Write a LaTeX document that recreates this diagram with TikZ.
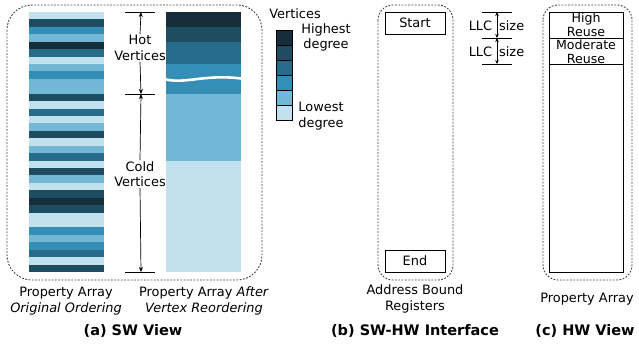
\documentclass[tikz,border=0pt]{standalone}
\usepackage{fontspec}
\setmainfont{DejaVu Sans}
\usetikzlibrary{arrows.meta}
\definecolor{cA}{RGB}{22,46,60}
\definecolor{cB}{RGB}{30,77,98}
\definecolor{cC}{RGB}{38,108,138}
\definecolor{cD}{RGB}{52,142,182}
\definecolor{cE}{RGB}{115,183,215}
\definecolor{cF}{RGB}{194,225,238}
\begin{document}
\begin{tikzpicture}[x=1pt,y=-1pt,
  font=\fontsize{12.9}{15.5}\selectfont,
  dotbox/.style={draw=black!75,line width=0.9pt,dash pattern=on 1.8pt off 1.5pt},
  lbl/.style={align=center,inner sep=1pt},
  captxt/.style={font=\fontsize{14.5}{17}\selectfont\bfseries,inner sep=1pt},
  tickln/.style={line width=0.8pt},
  arr/.style={line width=0.7pt,-{Stealth[length=5pt,width=4pt]}},
  darr/.style={line width=0.7pt,{Stealth[length=4pt,width=3.5pt]}-{Stealth[length=4pt,width=3.5pt]}},
  boxn/.style={draw,line width=0.8pt,minimum width=60pt,minimum height=22pt,inner sep=0pt},
  leg/.style={draw=black,line width=0.6pt}]
\useasboundingbox (0,0) rectangle (639,348);

% (a) dotted frame
\draw[dotbox,rounded corners=25pt] (7,5) rectangle (262,280);
% original ordering stripes
\foreach \c [count=\i from 0] in {cF,cB,cD,cE,cA,cC,cF,cE,cD,cE,cE,cB,cF,cC,cF,cE,cB,cF,cE,cC,cF,cB,cE,cF,cB,cA,cB,cF,cF,cD,cE,cD,cC,cF,cB}
  \fill[\c] (29,{12+\i*7.4286}) rectangle (104,{12+(\i+1)*7.4286+0.3});
% reordered
\fill[cA] (166,12) rectangle (241,26.9);
\fill[cB] (166,26.7) rectangle (241,41.9);
\fill[cC] (166,41.7) rectangle (241,64.2);
\fill[cD] (166,64) rectangle (241,94.2);
\fill[cE] (166,94) rectangle (241,161.2);
\fill[cF] (166,161) rectangle (241,272);
\draw[white,line width=2.6pt] (166,79.5) .. controls (186,84) and (205,74) .. (241,78.5);

% hot / cold arrows
\coordinate (h0) at (141,12);
\coordinate (h1) at (141,94);
\coordinate (h2) at (141,272);
\draw[tickln] (125,12) -- (155,12);
\draw[tickln] (125,94) -- (155,94);
\draw[tickln] (125,272) -- (155,272);
\node[lbl] (hot) at (140,48) {Hot\\Vertices};
\node[lbl] (cold) at (140,174) {Cold\\Vertices};
\draw[arr] (hot.north) -- (h0);
\draw[arr] (hot.south) -- (h1);
\draw[arr] (cold.north) -- (h1);
\draw[arr] (cold.south) -- (h2);

% legend
\node[lbl] (vt) at (295,14) {Vertices};
\foreach \c [count=\i from 0] in {cA,cB,cC,cD,cE,cF}
  \draw[leg,fill=\c] (276,{30.5+\i*14.9}) rectangle (292,{30.5+(\i+1)*14.9});
\node[lbl] (hi) at (326,37.5) {Highest\\degree};
\node[lbl] (lo) at (321,116) {Lowest\\degree};

% captions (a)
\node[lbl] (pa1) at (66,301) {Property Array\\\textit{Original Ordering}};
\node[lbl] (pa2) at (204,301) {Property Array \textit{After}\\\textit{Vertex Reordering}};
\node[captxt] (ca) at (133,331) {(a) SW View};

% (b)
\draw[dotbox,rounded corners=15pt] (378,5) rectangle (453,280);
\node[boxn] (start) at (415,23) {Start};
\node[boxn] (end) at (415,261) {End};
\node[lbl] (abr) at (415,299) {Address Bound\\Registers};
\node[captxt] (cb) at (415,331) {(b) SW-HW Interface};

% LLC size
\coordinate (l0) at (497,12);
\coordinate (l1) at (497,38);
\coordinate (l2) at (497,64);
\draw[tickln] (482,12) -- (512,12);
\draw[tickln] (482,38) -- (512,38);
\draw[tickln] (482,64) -- (512,64);
\draw[darr] (l0) -- (l1);
\draw[darr] (l1) -- (l2);
\node[lbl] (llc1) at (496.5,26) {LLC\hspace{7pt}size};
\node[lbl] (llc2) at (496.5,52) {LLC\hspace{7pt}size};

% (c)
\draw[dotbox,rounded corners=15pt] (543,5) rectangle (632,280);
\draw[line width=0.8pt] (549,12) rectangle (623,272);
\draw[line width=0.8pt] (549,38) -- (623,38);
\draw[line width=0.8pt] (549,64) -- (623,64);
\node[lbl,font=\fontsize{12.6}{14}\selectfont] (hr) at (586,25) {High\\Reuse};
\node[lbl,font=\fontsize{12.6}{14}\selectfont] (mr) at (586,51.5) {Moderate\\Reuse};
\node[lbl] (pac) at (587,299) {Property Array};
\node[captxt] (cc) at (585,331) {(c) HW View};
\end{tikzpicture}
\end{document}
